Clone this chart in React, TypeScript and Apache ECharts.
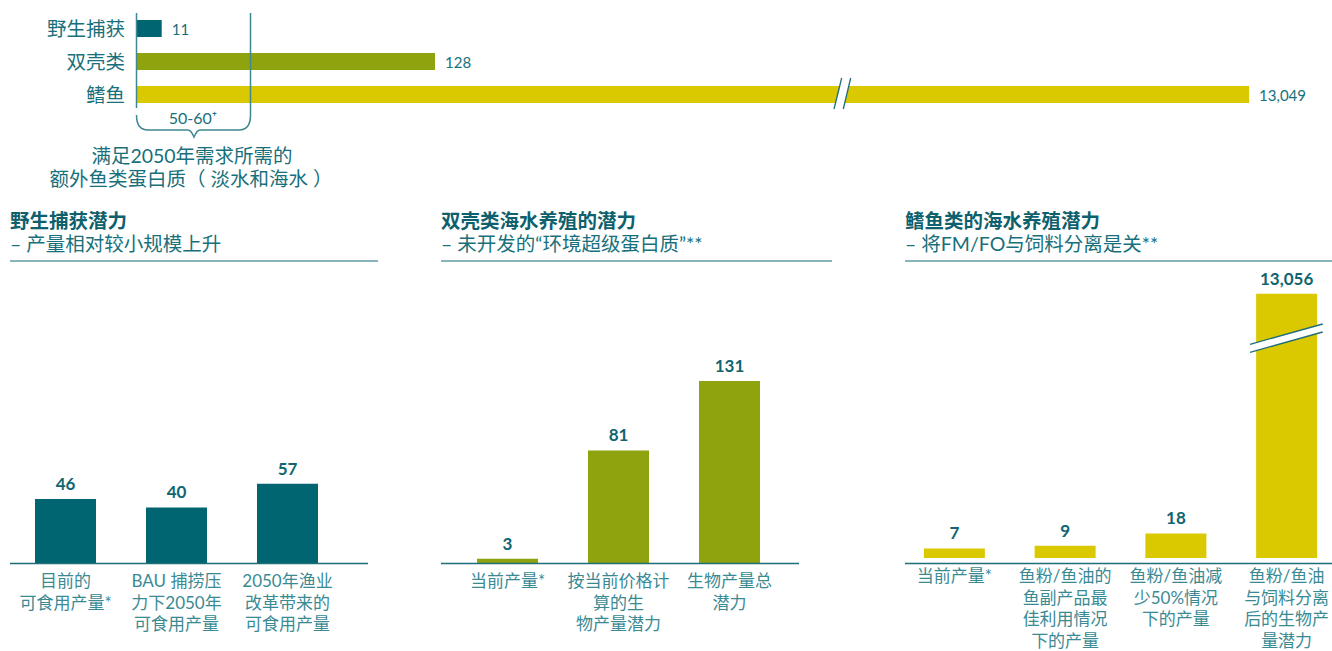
import React, { useEffect, useRef } from "react";
import * as echarts from "echarts";

// ---------- data ----------
const topCategories = ["野生捕获", "双壳类", "鳍鱼"];
const topValues = [11, 128, 13049];
const topBreakCap = 476.5; // displayed length of the broken bar (axis units)

const wildCategories = ["目前的\n可食用产量*", "BAU 捕捞压\n力下2050年\n可食用产量", "2050年渔业\n改革带来的\n可食用产量"];
const wildValues = [46, 40, 57];

const bivalveCategories = ["当前产量*", "按当前价格计\n算的生\n物产量潜力", "生物产量总\n潜力"];
const bivalveValues = [3, 81, 131];

const finfishCategories = [
  "当前产量*",
  "鱼粉/鱼油的\n鱼副产品最\n佳利用情况\n下的产量",
  "鱼粉/鱼油减\n少50%情况\n下的产量",
  "鱼粉/鱼油\n与饲料分离\n后的生物产\n量潜力",
];
const finfishValues = [7, 9, 18, 13056];
const bottomBreakCap = 193.5;

const panelTitles = ["野生捕获潜力", "双壳类海水养殖的潜力", "鳍鱼类的海水养殖潜力"];
const panelSubtitles = ["– 产量相对较小规模上升", "– 未开发的“环境超级蛋白质”**", "– 将FM/FO与饲料分离是关**"];
const braceValueLabel = "50-60⁺";
const braceNote = ["满足2050年需求所需的", "额外鱼类蛋白质（ 淡水和海水 ）"];

// ---------- style ----------
const TEAL = "#006570";
const OLIVE = "#8ea30e";
const YELLOW = "#dac900";
const TXT = "#17707b";
const TXT_LIGHT = "#3a8a94";
const FONT = "Lato, 'Noto Sans CJK SC', sans-serif";

const fmt = (v: number) => v.toLocaleString("en-US");

function bottomPanel(idx: number, cats: string[], vals: number[], color: string, grid: any) {
  return {
    grid: { ...grid, top: 285, height: 278 },
    xAxis: {
      type: "category",
      gridIndex: idx,
      data: cats,
      axisLine: { show: false },
      axisTick: { show: false },
      axisLabel: {
        interval: 0,
        color: TXT_LIGHT,
        fontSize: 17,
        lineHeight: 21.5,
        margin: 7,
        fontFamily: FONT,
      },
    },
    yAxis: {
      type: "value",
      gridIndex: idx,
      min: 0,
      max: 200,
      show: false,
      splitLine: { show: false },
    },
    series: {
      type: "bar",
      xAxisIndex: idx,
      yAxisIndex: idx,
      barWidth: 61,
      data: vals.map((v) => Math.min(v, bottomBreakCap)),
      itemStyle: { color },
      label: {
        show: true,
        position: "top",
        distance: 7,
        color: "#0f6571",
        fontWeight: "bold",
        fontSize: 17,
        fontFamily: FONT,
        formatter: (p: any) => fmt(vals[p.dataIndex]),
      },
    },
  };
}

export default function App() {
  const ref = useRef<HTMLDivElement>(null);

  useEffect(() => {
    if (!ref.current) return;
    const chart = echarts.init(ref.current, undefined, { renderer: "svg" });

    echarts.graphic.registerShape(
      "brace",
      echarts.graphic.extendPath(
        "M136.5,13 L136.5,108 M136.5,115 Q136.5,130 148,130 L188,130 Q191,130 194,137 Q197,130 200,130 L239,130 Q250.5,130 250.5,115 L250.5,13",
        {}
      )
    );

    const p1 = bottomPanel(1, wildCategories, wildValues, TEAL, { left: 10, width: 333 });
    const p2 = bottomPanel(2, bivalveCategories, bivalveValues, OLIVE, { left: 452, width: 333 });
    const p3 = bottomPanel(3, finfishCategories, finfishValues, YELLOW, { left: 899, width: 443 });

    const topColors = [TEAL, OLIVE, YELLOW];

    const lineEl = (x1: number, y1: number, x2: number, y2: number, stroke: string, w = 1.6, z = 10) => ({
      type: "line",
      z,
      shape: { x1, y1, x2, y2 },
      style: { stroke, lineWidth: w },
    });
    const textEl = (text: string, x: number, y: number, size: number, fill: string, bold = false, align = "left") => ({
      type: "text",
      z: 10,
      style: {
        text,
        x,
        y,
        fill,
        fontSize: size,
        fontFamily: FONT,
        fontWeight: bold ? "bold" : "normal",
        align,
        verticalAlign: "middle",
      },
    });

    const titleX = [10, 441, 905];
    const underline = [
      [10, 378],
      [441, 832],
      [905, 1332],
    ];
    const baseline = [
      [10, 368],
      [441, 799],
      [905, 1332],
    ];

    const graphics: any[] = [];
    titleX.forEach((x, i) => {
      graphics.push(textEl(panelTitles[i], x, 220, 19.5, "#0d606c", true));
      graphics.push(textEl(panelSubtitles[i], x, 243, 19.5, TXT));
      graphics.push(lineEl(underline[i][0], 261, underline[i][1], 261, "#5e9ca5", 1.6));
      graphics.push(lineEl(baseline[i][0], 563.5, baseline[i][1], 563.5, "#1f6e79", 1.6));
    });

    // brace
    graphics.push({
      type: "brace",
      z: 10,
      x: 0,
      y: 0,
      style: { stroke: "#3f8791", lineWidth: 1.5, fill: "none" },
    });
    graphics.push(textEl(braceValueLabel, 193, 117, 16, TXT, false, "center"));
    graphics.push(textEl(braceNote[0], 192, 155, 19.5, TXT, false, "center"));
    graphics.push(textEl(braceNote[1], 191, 178, 19.5, TXT, false, "center"));

    // break marks (top chart)
    graphics.push({
      type: "polygon",
      z: 20,
      shape: { points: [[834, 109], [841.7, 78], [850.7, 78], [843.3, 109]] },
      style: { fill: "#ffffff" },
    });
    graphics.push(lineEl(834, 109, 841.7, 78, "#1f6e79", 1.3, 21));
    graphics.push(lineEl(843.3, 109, 850.7, 78, "#1f6e79", 1.3, 21));

    // break marks (finfish panel)
    graphics.push({
      type: "polygon",
      z: 20,
      shape: { points: [[1250, 344.3], [1322.7, 324], [1322.7, 332], [1250, 352.3]] },
      style: { fill: "#ffffff" },
    });
    graphics.push(lineEl(1250, 344.3, 1322.7, 324, "#1f6e79", 1.3, 21));
    graphics.push(lineEl(1250, 352.3, 1322.7, 332, "#1f6e79", 1.3, 21));

    chart.setOption({
      animation: false,
      grid: [{ left: 136, top: 12, height: 99, width: 1168 }, p1.grid, p2.grid, p3.grid],
      xAxis: [
        { type: "value", gridIndex: 0, min: 0, max: 500, show: false, splitLine: { show: false } },
        p1.xAxis,
        p2.xAxis,
        p3.xAxis,
      ],
      yAxis: [
        {
          type: "category",
          gridIndex: 0,
          inverse: true,
          data: topCategories,
          axisLine: { show: false },
          axisTick: { show: false },
          axisLabel: { color: TXT, fontSize: 19.5, margin: 11, fontFamily: FONT },
        },
        p1.yAxis,
        p2.yAxis,
        p3.yAxis,
      ],
      series: [
        {
          type: "bar",
          xAxisIndex: 0,
          yAxisIndex: 0,
          barWidth: 17,
          data: topValues.map((v, i) => ({
            value: Math.min(v, topBreakCap),
            itemStyle: { color: topColors[i] },
          })),
          label: {
            show: true,
            position: "right",
            distance: 10,
            color: TXT,
            fontSize: 15,
            fontFamily: FONT,
            formatter: (p: any) => fmt(topValues[p.dataIndex]),
          },
        },
        p1.series,
        p2.series,
        p3.series,
      ],
      graphic: graphics,
    });

    return () => chart.dispose();
  }, []);

  return (
    <div
      style={{
        position: "absolute",
        left: 0,
        top: 0,
        width: 1332,
        height: 651,
        overflow: "hidden",
        background: "#ffffff",
      }}
    >
      <div ref={ref} style={{ width: 1350, height: 651 }} />
    </div>
  );
}
